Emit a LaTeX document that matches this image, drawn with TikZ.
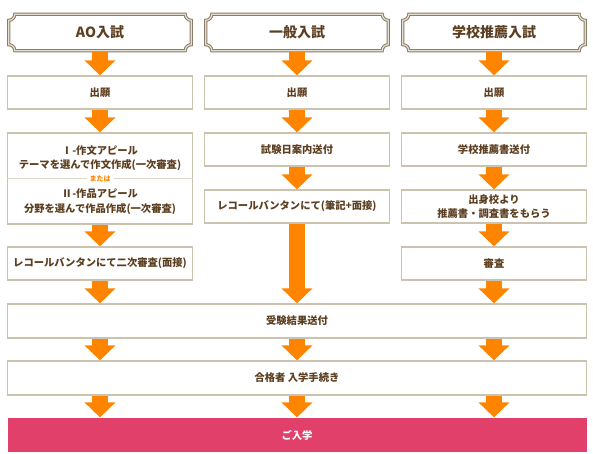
\documentclass[tikz,border=0pt]{standalone}
\usepackage{fontspec}
\setmainfont{Noto Sans CJK JP}
\usepackage{tikz}
\usetikzlibrary{arrows.meta,calc}
\definecolor{flow}{RGB}{255,132,0}
\definecolor{boxline}{RGB}{204,194,176}
\definecolor{divline}{RGB}{222,214,200}
\definecolor{hdrline}{RGB}{138,124,104}
\definecolor{hdrgap}{RGB}{230,222,208}
\definecolor{ink}{RGB}{92,62,32}
\definecolor{enter}{RGB}{224,64,106}
\tikzstyle{txt}=[text=ink, align=center, inner sep=0pt, font=\fontsize{10.3}{14.5}\selectfont\bfseries]
\tikzstyle{head}=[txt, minimum width=182pt, minimum height=36pt, font=\fontsize{14}{16}\selectfont\bfseries]
\tikzstyle{stepbox}=[txt, draw=boxline, line width=1.2pt, fill=white, minimum width=185pt, minimum height=33pt]
\tikzstyle{widebox}=[stepbox, minimum width=579pt, minimum height=34pt]
\tikzstyle{goal}=[widebox, draw=none, fill=enter, text=white]
\tikzstyle{ortext}=[text=flow, fill=white, inner xsep=3pt, inner ysep=0pt, font=\fontsize{7}{8}\selectfont\bfseries]
\providecommand{\hframe}[1]{%
\draw[hdrline, double=hdrgap, double distance=1.2pt, line width=1pt]
  ($(#1.north west)+(6,0)$) -- ($(#1.north east)+(-6,0)$)
  arc[start angle=180, end angle=90, radius=6]
  -- ($(#1.south east)+(0,-6)$)
  arc[start angle=270, end angle=180, radius=6]
  -- ($(#1.south west)+(6,0)$)
  arc[start angle=0, end angle=-90, radius=6]
  -- ($(#1.north west)+(0,6)$)
  arc[start angle=90, end angle=0, radius=6]
  -- cycle;}

\begin{document}
\begin{tikzpicture}[x=1pt, y=-1pt,
    every edge/.style={draw=flow, line width=16pt, -{Triangle[width=30pt,length=15pt]}}
]
\useasboundingbox (0,0) rectangle (593,454);
\node[head] (ao) at (100,32.5) {AO入試};
\node[head] (gen) at (297,32.5) {一般入試};
\node[head] (rec) at (494,32.5) {学校推薦入試};
\hframe{ao} \hframe{gen} \hframe{rec}
% AO
\node[stepbox] (ao1) at (100,92.5) {出願};
\node[stepbox, minimum height=91pt] (ao2) at (100,178.5) {};
\draw[divline, line width=0.6pt] (ao2.west) -- (ao2.east);
\node[ortext] (ao2or) at (ao2.center) {または};
\node[txt] (ao2a) at (100,158) {Ⅰ-作文アピール\\テーマを選んで作文作成(一次審査)};
\node[txt] (ao2b) at (100,201.5) {Ⅱ-作品アピール\\分野を選んで作品作成(一次審査)};
\node[stepbox] (ao3) at (100,263.5) {レコールバンタンにて二次審査(面接)};
% general
\node[stepbox] (gen1) at (297,92.5) {出願};
\node[stepbox] (gen2) at (297,149.5) {試験日案内送付};
\node[stepbox] (gen3) at (297,206.5) {レコールバンタンにて(筆記+面接)};
% recommendation
\node[stepbox] (rec1) at (494,92.5) {出願};
\node[stepbox] (rec2) at (494,149.5) {学校推薦書送付};
\node[stepbox] (rec3) at (494,206.5) {出身校より\\推薦書・調査書をもらう};
\node[stepbox] (rec4) at (494,263.5) {審査};
% common
\node[widebox] (res) at (297,321) {受験結果送付};
\node[widebox] (pass) at (297,378) {合格者 入学手続き};
\node[goal] (join) at (297,435) {ご入学};
\path
(ao) edge [shorten <=1.6pt] (ao1)
(gen) edge [shorten <=1.6pt] (gen1)
(rec) edge [shorten <=1.6pt] (rec1)
(ao1) edge (ao2)
(ao2) edge (ao3)
(ao3) edge (res.north -| ao3.south)
(gen1) edge (gen2)
(gen2) edge (gen3)
(gen3) edge (res.north -| gen3.south)
(rec1) edge (rec2)
(rec2) edge (rec3)
(rec3) edge (rec4)
(rec4) edge (res.north -| rec4.south)
(res.south -| ao3.south) edge (pass.north -| ao3.south)
(res.south) edge (pass.north)
(res.south -| rec4.south) edge (pass.north -| rec4.south)
(pass.south -| ao3.south) edge (join.north -| ao3.south)
(pass.south) edge (join.north)
(pass.south -| rec4.south) edge (join.north -| rec4.south)
;
\end{tikzpicture}
\end{document}
